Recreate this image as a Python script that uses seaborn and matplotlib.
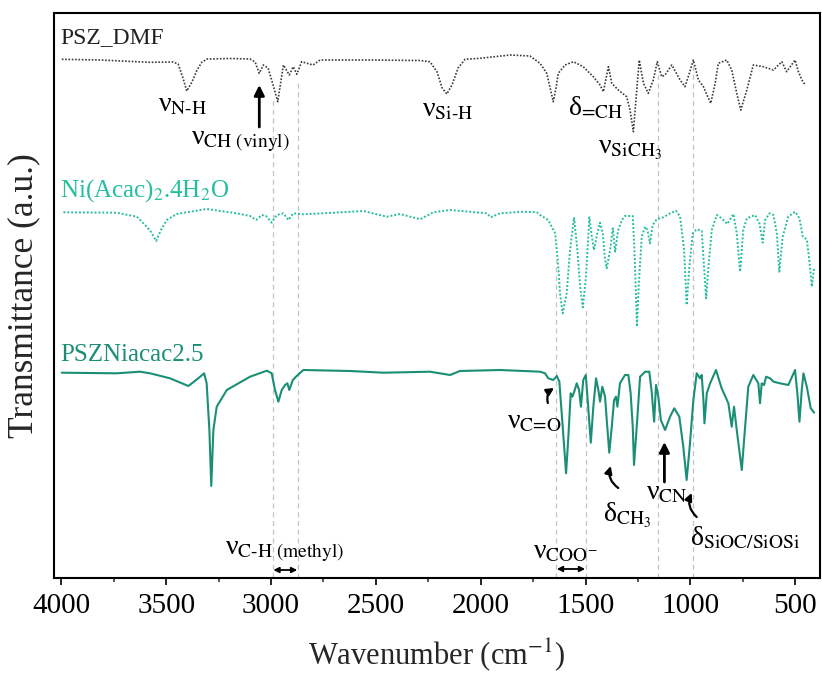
"""FTIR spectra of PSZ_DMF, Ni(acac)2.4H2O and PSZNiacac2.5."""

import matplotlib
matplotlib.use("Agg")
import matplotlib.pyplot as plt
import seaborn as sns

# --- data (wavenumber in cm-1, transmittance a.u., baseline ~100) ---
psz_wn = [3998, 3815, 3577, 3467, 3443, 3420, 3402, 3377, 3353, 3329, 3305, 3195, 3100, 3076,
          3056, 3037, 3014, 2990, 2968, 2952, 2941, 2913, 2894, 2877, 2854, 2833, 2800, 2766,
          2528, 2289, 2242, 2208, 2184, 2162, 2137, 2108, 2075, 2003, 1860, 1765, 1717, 1685,
          1669, 1654, 1641, 1630, 1598, 1558, 1511, 1463, 1431, 1415, 1391, 1375, 1344, 1304,
          1288, 1272, 1256, 1244, 1224, 1201, 1177, 1158, 1137, 1121, 1089, 1049, 1026, 1005,
          986, 962, 938, 921, 903, 882, 867, 827, 803, 779, 760, 731, 700, 652, 604, 564, 541,
          501, 485, 468, 453]
psz_t = [100.7, 100, 97.7, 98, 96, 82, 69, 78, 90, 98, 101, 101.5, 101, 98,
         86.7, 95, 92, 75, 58.3, 80, 95, 85, 93.3, 85.7, 98.3, 97, 95, 100,
         100, 99.5, 98.3, 88, 72, 66, 75, 92, 100.7, 101.7, 105, 104, 96.7, 86.7,
         72, 58.3, 72, 86.7, 95, 98.3, 93.3, 83.3, 75, 68.3, 93.3, 76.7, 70, 63.3,
         50, 28.3, 70, 100, 76.7, 66.7, 80, 98.3, 83.3, 85, 95, 80, 73.3, 86.7,
         100, 80, 73.3, 65, 56.7, 76.7, 96.7, 100, 90, 66.7, 50, 70, 95, 93.3, 90, 98.3, 88.3,
         100, 88.3, 80, 75]

ni_wn = [3990, 3736, 3640, 3593, 3572, 3548, 3525, 3497, 3450, 3307, 3164, 3100, 3071, 3044,
         3024, 2997, 2973, 2941, 2917, 2894, 2846, 2751, 2560, 2448, 2385, 2289, 2226, 2146,
         1971, 1952, 1908, 1797, 1733, 1717, 1678, 1645, 1630, 1622, 1609, 1590, 1574, 1555,
         1539, 1526, 1513, 1498, 1482, 1470, 1460, 1444, 1431, 1418, 1407, 1399, 1383, 1370,
         1359, 1344, 1327, 1312, 1275, 1267, 1259, 1255, 1246, 1232, 1216, 1205, 1193, 1180,
         1161, 1129, 1097, 1069, 1049, 1030, 1018, 1005, 989, 970, 946, 935, 925, 914, 898,
         874, 851, 824, 795, 779, 763, 748, 731, 692, 671, 655, 644, 623, 604, 588, 576, 560,
         533, 501, 480, 464, 445, 433, 421, 410]
ni_t = [100.2, 99.8, 95.8, 85.8, 80.5, 71.5, 82.5, 92.5, 98.5, 103.5, 99.2, 96.5, 92.5, 97.5,
        96.5, 89.8, 97.5, 99.2, 92.5, 99.2, 98.2, 99.2, 101.5, 95.8, 98.5, 93.2, 100.2, 102.5,
        99.2, 95.2, 99.2, 100.8, 100.2, 97.5, 92.5, 79.2, 45.8, 19.2, -0.8, 19.2, 62.5, 95.2,
        62.5, 25.8, 5.2, 35.8, 95.2, 75.8, 62.5, 79.2, 89.8, 79.2, 52.5, 44.2, 62.5, 84.2,
        60.8, 82.5, 92.5, 96.5, 96.5, 62.5, 12.5, -14.2, 29.2, 75.8, 85.8, 82.5, 69.2, 87.5,
        93.2, 95.2, 99.2, 101.8, 95.8, 62.5, 7.5, 45.8, 79.2, 83.2, 81.8, 45.8, 14.2, 45.8, 82.5,
        97.5, 94.2, 88.5, 98.5, 79.2, 40.8, 82.5, 94.2, 97.5, 89.2, 69.8, 92.5, 99.2, 97.5, 79.2, 40.8, 75.8,
        95.8, 100.8, 94.2, 75.8, 73.2, 52.5, 25.8, 44.2]

pszni_wn = [3998, 3736, 3625, 3577, 3482, 3394, 3347, 3319, 3307, 3294, 3285, 3275, 3259, 3211,
            3100, 3020, 2997, 2981, 2965, 2949, 2933, 2922, 2913, 2896, 2881, 2846, 2623, 2464,
            2242, 2146, 2099, 1908, 1717, 1693, 1678, 1654, 1637, 1625, 1609, 1593, 1582, 1571,
            1563, 1554, 1542, 1531, 1522, 1511, 1499, 1490, 1475, 1463, 1450, 1439, 1431, 1420,
            1407, 1399, 1387, 1375, 1364, 1355, 1348, 1336, 1312, 1296, 1285, 1275, 1269, 1256,
            1240, 1216, 1196, 1184, 1173, 1164, 1153, 1141, 1121, 1097, 1077, 1053, 1034, 1018,
            1002, 986, 970, 954, 946, 938, 933, 922, 906, 878, 851, 819, 803, 792, 779, 763, 755,
            744, 724, 700, 676, 668, 660, 649, 639, 620, 604, 573, 533, 501, 490, 480, 469, 461,
            445, 426, 410]
pszni_t = [100, 99.4, 101, 99.4, 94.4, 86.7, 94.4, 99.4, 89.4, 42.7, -13.3, 42.7, 66, 82.7,
           96, 102, 99.4, 82.7, 71, 82.7, 87.7, 89.4, 82.7, 92.7, 96, 102.7, 101.7, 100,
           101, 97.7, 101.7, 102.7, 101, 99.4, 94.4, 92.7, 96.7, 91, 46, -0.6, 36, 79.4,
           76, 81, 89.4, 82.7, 66, 92.7, 97.7, 72.7, 30, 66, 94.4, 82.7, 71, 86,
           76, 52.7, 20, 46, 72.7, 76, 66, 89.4, 97.7, 97.7, 79.4, 46, 7.7, 46,
           96, 101, 101, 79.4, 51, 87.7, 76, 52.7, 42.7, 56, 64.4, 56, 26, -7.3,
           29.4, 72.7, 99.4, 94.4, 97.7, 72.7, 49.4, 79.4, 89.4, 102.7, 84.4, 69.4, 46, 66, 42.7, 16, 2.7,
           32.7, 86, 97.7, 89.4, 69.4, 89.4, 87.7, 96, 94.4, 91, 89.4, 87.7, 102.7, 79.4, 51, 82.7, 99.4,
           86, 64.4, 60]

marker_wn = [2990, 2870, 1640, 1500, 1156, 986]

x_ticks = [4000, 3500, 3000, 2500, 2000, 1500, 1000, 500]
x_tick_labels = ["4000", "3500", "3000", "2500", "2000", "1500", "1000", "500"]

# vertical offsets used to stack the spectra
offsets = {"psz": 418, "ni": 265.5, "pszni": 105.3}

SERIF = ["Liberation Serif", "DejaVu Serif"]

sns.set_theme(style="ticks")
plt.rcParams["font.family"] = SERIF
plt.rcParams["mathtext.fontset"] = "stix"

fig, ax = plt.subplots(figsize=(8.22, 6.77), dpi=100)
fig.subplots_adjust(left=54 / 822, right=820 / 822, bottom=1 - 578 / 677, top=1 - 13 / 677)

# guide lines (start just under the spectrum they belong to)
guide_top = [480, 498, 318, 268, 503, 516]
for wn, top in zip(marker_wn, guide_top):
    ax.plot([wn, wn], [0, top], color="#c4c4c4", lw=0.9, ls=(0, (4, 3)), zorder=1)

c_psz, c_ni, c_pszni = "#3b3b3b", "#25bf9f", "#1b8f76"
sns.lineplot(x=psz_wn, y=[t + offsets["psz"] for t in psz_t], estimator=None, sort=False,
             color=c_psz, lw=1.2, linestyle=(0, (1, 1)), ax=ax)
sns.lineplot(x=ni_wn, y=[t + offsets["ni"] for t in ni_t], estimator=None, sort=False,
             color=c_ni, lw=1.4, linestyle=(0, (1, 1)), ax=ax)
sns.lineplot(x=pszni_wn, y=[t + offsets["pszni"] for t in pszni_t], estimator=None, sort=False,
             color=c_pszni, lw=1.5, ax=ax)

# sample names
ax.text(4006, 540, "PSZ_DMF", fontsize=17, color="#222222", ha="left", va="center")
ax.text(4006, 387, r"Ni(Acac)$_2$.4H$_2$O", fontsize=18, color=c_ni, ha="left", va="center")
ax.text(4006, 223, "PSZNiacac2.5", fontsize=18, color=c_pszni, ha="left", va="center")

# band assignments: upright greek letter as plain text, subscript through mathtext
bands = [
    (3420, 473, r"ν$_{\text{N-H}}$"),
    (3148, 436, r"ν$_{\text{CH (vinyl)}}$"),
    (2156, 468, r"ν$_{\text{Si-H}}$"),
    (1450, 470, r"δ$_{\text{=CH}}$"),
    (1288, 428, r"ν$_{\mathrm{SiCH_3}}$"),
    (1746, 156, r"ν$_{\text{C=O}}$"),
    (1302, 63, r"δ$_{\mathrm{CH_3}}$"),
    (1111, 85, r"ν$_{\text{CN}}$"),
    (739, 40, r"δ$_{\text{SiOC/SiOSi}}$"),
    (2933, 26, r"ν$_{\text{C-H (methyl)}}$"),
    (1598, 26, r"ν$_{\mathrm{COO^{-}}}$"),
]
for x, y, lab in bands:
    ax.text(x, y, lab, fontsize=20, ha="center", va="center", color="black")

# arrows
straight = dict(arrowstyle="-|>", color="black", lw=2, mutation_scale=15,
                shrinkA=0, shrinkB=0)
ax.annotate("", xy=(3056, 493), xytext=(3056, 451), arrowprops=straight)
ax.annotate("", xy=(1124, 136), xytext=(1124, 96), arrowprops=straight)
curved = dict(arrowstyle="-|>", color="black", lw=1.6, mutation_scale=11,
              connectionstyle="arc3,rad=-0.35", shrinkA=0, shrinkB=0)
ax.annotate("", xy=(1650, 190), xytext=(1680, 175), arrowprops=curved)
ax.annotate("", xy=(1380, 112), xytext=(1344, 90), arrowprops=curved)
ax.annotate("", xy=(994, 85), xytext=(970, 61), arrowprops=curved)
double = dict(arrowstyle="<|-|>", color="black", lw=1.3, mutation_scale=8,
              shrinkA=0, shrinkB=0)
ax.annotate("", xy=(2875, 8), xytext=(2989, 8), arrowprops=double)
ax.annotate("", xy=(1502, 9), xytext=(1637, 9), arrowprops=double)

ax.set_xlim(4035, 382)
ax.set_ylim(0, 565)
ax.set_xticks(x_ticks)
ax.set_xticklabels(x_tick_labels, fontfamily="Liberation Serif", fontsize=21)
ax.set_xticks(range(3750, 400, -500), minor=True)
ax.set_yticks([])
ax.tick_params(axis="x", which="major", direction="out", length=5, width=1.2,
               pad=6, colors="black")
ax.tick_params(axis="x", which="minor", direction="out", length=3, width=1.1)
for s in ax.spines.values():
    s.set_visible(True)
    s.set_linewidth(1.5)
    s.set_color("black")

ax.set_xlabel(r"Wavenumber (cm$^{-1}$)", fontsize=22, labelpad=12)
ax.set_ylabel("Transmittance (a.u.)", fontsize=25.5, labelpad=10)

plt.savefig("out.png", dpi=100)
plt.close()
